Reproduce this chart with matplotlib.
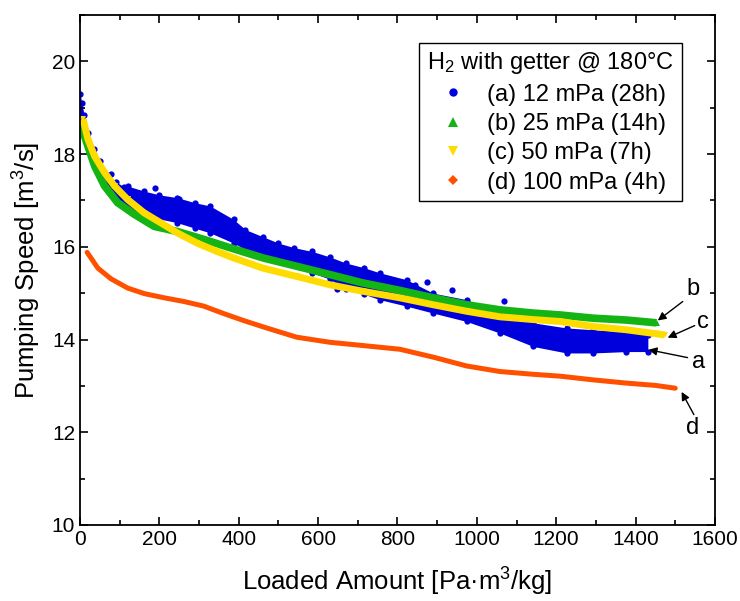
import matplotlib
matplotlib.use("Agg")
import matplotlib.pyplot as plt
from matplotlib.lines import Line2D
from matplotlib.ticker import MultipleLocator

plt.rcParams['font.family'] = ['Liberation Sans', 'DejaVu Sans']
plt.rcParams['mathtext.fontset'] = 'custom'
plt.rcParams['mathtext.rm'] = 'Liberation Sans'
plt.rcParams['mathtext.it'] = 'Liberation Sans:italic'

# (d) 100 mPa
d_x = [18, 45, 78, 120, 162, 212, 262, 312, 362, 412, 470, 546, 630, 713, 806,
       890, 974, 1058, 1142, 1209, 1293, 1377, 1450, 1500]
d_y = [15.88, 15.54, 15.31, 15.11, 14.99, 14.90, 14.82, 14.72, 14.56, 14.41, 14.25,
       14.05, 13.94, 13.87, 13.79, 13.62, 13.43, 13.31, 13.25, 13.21, 13.13, 13.06,
       13.01, 12.95]

# (c) 50 mPa
c_x = [8, 20, 37, 62, 87, 120, 162, 203, 245, 295, 345, 387, 461, 546, 630, 713,
       806, 890, 974, 1058, 1142, 1209, 1293, 1377, 1473]
c_y = [18.75, 18.32, 17.95, 17.60, 17.31, 17.02, 16.73, 16.52, 16.30, 16.08, 15.90,
       15.76, 15.54, 15.36, 15.18, 15.04, 14.90, 14.75, 14.61, 14.49, 14.43, 14.39,
       14.28, 14.21, 14.10]

# (b) 25 mPa
b_x = [3, 20, 37, 62, 95, 137, 187, 245, 312, 378, 461, 546, 630, 713, 806, 890,
       974, 1058, 1142, 1209, 1293, 1377, 1453]
b_y = [18.60, 18.17, 17.74, 17.31, 16.95, 16.70, 16.44, 16.33, 16.16, 15.98, 15.76,
       15.58, 15.40, 15.22, 15.06, 14.90, 14.75, 14.64, 14.57, 14.53, 14.46, 14.42,
       14.36]

# (a) 12 mPa - scattered band, upper and lower edge
a_x = [0, 5, 10, 20, 35, 50, 70, 90, 110, 120, 162, 200, 245, 290, 328, 387, 417,
       460, 500, 540, 585, 630, 670, 715, 755, 823, 890, 974, 1058, 1142, 1226,
       1293, 1377, 1431]
a_up = [19.30, 19.10, 18.85, 18.45, 18.10, 17.85, 17.55, 17.40, 17.30, 17.31, 17.20,
        17.12, 17.06, 16.95, 16.88, 16.59, 16.37, 16.22, 16.08, 15.98, 15.90, 15.78,
        15.65, 15.55, 15.44, 15.29, 15.00, 14.86, 14.57, 14.36, 14.25, 14.21, 14.17,
        14.10]
a_lo = [18.90, 18.60, 18.45, 18.15, 17.80, 17.55, 17.30, 17.05, 16.95, 16.80, 16.66,
        16.60, 16.52, 16.40, 16.30, 16.08, 15.94, 15.85, 15.72, 15.60, 15.44, 15.30,
        15.08, 14.98, 14.86, 14.72, 14.57, 14.39, 14.14, 13.85, 13.71, 13.71, 13.74,
        13.74]
a_out_x = [79, 189, 250, 335, 647, 843, 875, 938, 1045, 1068]
a_out_y = [17.58, 17.26, 17.03, 16.64, 15.08, 15.18, 15.23, 15.06, 14.30, 14.82]

labels = ["(a) 12 mPa (28h)", "(b) 25 mPa (14h)", "(c) 50 mPa (7h)", "(d) 100 mPa (4h)"]

blue = '#0000dc'
green = '#14b414'
yellow = '#ffdc00'
orange = '#ff5000'

fig = plt.figure(figsize=(7.4, 6.01), dpi=100)
ax = fig.add_axes([0.1081, 0.1265, 0.858, 0.8486])

# blue band
ax.fill_between(a_x, a_lo, a_up, color=blue, lw=0)
ax.plot(a_x, a_up, 'o', color=blue, ms=4.5, mew=0)
ax.plot(a_x, a_lo, 'o', color=blue, ms=4.5, mew=0)
ax.plot(a_out_x, a_out_y, 'o', color=blue, ms=4.5, mew=0)

ax.plot(b_x, b_y, '-', color=green, lw=5.5, solid_capstyle='butt')
ax.plot(b_x, b_y, '^', color=green, ms=5, mew=0)
ax.plot(c_x, c_y, '-', color=yellow, lw=5, solid_capstyle='butt')
ax.plot(c_x, c_y, 'v', color=yellow, ms=4.5, mew=0)
ax.plot(d_x, d_y, '-', color=orange, lw=3.6, solid_capstyle='round')

ax.set_xlim(0, 1600)
ax.set_ylim(10, 21)
ax.xaxis.set_major_locator(MultipleLocator(200))
ax.xaxis.set_minor_locator(MultipleLocator(100))
ax.yaxis.set_major_locator(MultipleLocator(2))
ax.yaxis.set_minor_locator(MultipleLocator(1))
ax.tick_params(which='both', direction='in', top=True, right=True, width=1.2,
               labelsize=15)
ax.tick_params(which='major', length=6)
ax.tick_params(which='minor', length=3.5)
for s in ax.spines.values():
    s.set_linewidth(1.3)

ax.set_xlabel("Loaded Amount [Pa\u00b7m$^3$/kg]", fontsize=18.5, labelpad=12)
ax.set_ylabel("Pumping Speed [m$^3$/s]", fontsize=18.5, labelpad=6)

handles = [
    Line2D([], [], ls='none', marker='o', color=blue, ms=6, mew=0),
    Line2D([], [], ls='none', marker='^', color=green, ms=6.5, mew=0),
    Line2D([], [], ls='none', marker='v', color=yellow, ms=6.5, mew=0),
    Line2D([], [], ls='none', marker='D', color=orange, ms=5.5, mew=0),
]
leg = ax.legend(handles, labels, title="H$_2$ with getter @ 180\u00b0C",
                loc='upper right', bbox_to_anchor=(0.948, 0.946), fontsize=17,
                title_fontsize=17, fancybox=False, edgecolor='black',
                framealpha=1, borderpad=0.33, labelspacing=0.31,
                handlelength=1.5, handletextpad=0.7, borderaxespad=0)
leg.get_frame().set_linewidth(1.0)

# arrow labels
notes = [("b", (1544, 15.08), (1519, 14.82), (1456, 14.41)),
         ("c", (1569, 14.38), (1549, 14.30), (1481, 14.04)),
         ("a", (1559, 13.52), (1531, 13.61), (1433, 13.78)),
         ("d", (1544, 12.10), (1547, 12.38), (1516, 12.87))]
for txt, tpos, tail, head in notes:
    ax.text(tpos[0], tpos[1], txt, fontsize=17, ha='center', va='center')
    ax.annotate('', xy=head, xytext=tail,
                arrowprops=dict(arrowstyle='-|>', color='black', lw=1.0,
                                mutation_scale=12, shrinkA=0, shrinkB=0))

fig.savefig("out.png", dpi=100)
